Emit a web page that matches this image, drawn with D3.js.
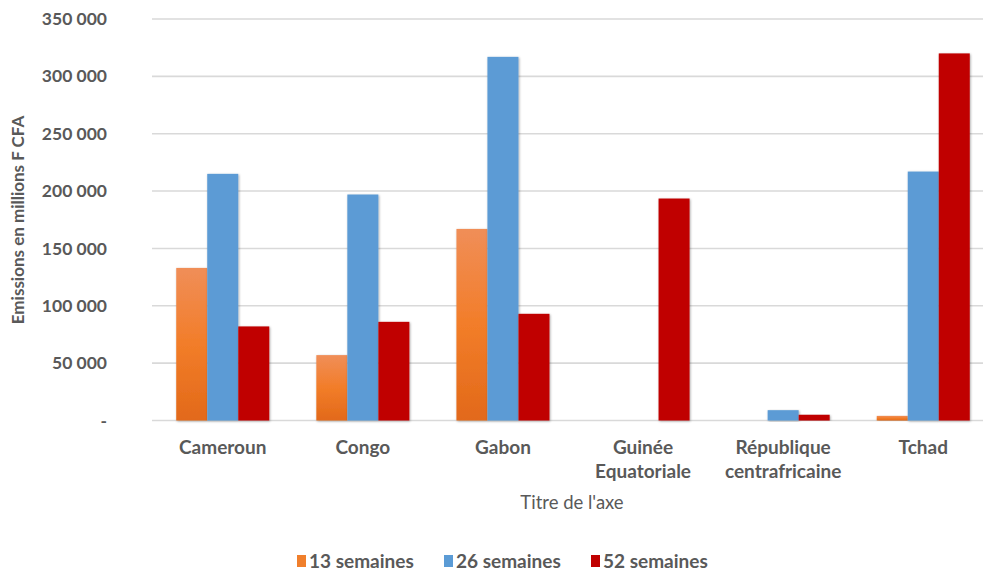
<!DOCTYPE html>
<html>
<head>
<meta charset="utf-8">
<script src="https://cdn.jsdelivr.net/npm/d3@7"></script>
<style>
  html, body { margin: 0; padding: 0; background: #fff; overflow: hidden; }
  svg { display: block; }
</style>
</head>
<body>
<div id="chart"></div>
<script>
// ---- data ----
const categories = ["Cameroun", "Congo", "Gabon", "Guinée Equatoriale", "République centrafricaine", "Tchad"];
const categoryLines = [["Cameroun"], ["Congo"], ["Gabon"], ["Guinée", "Equatoriale"], ["République", "centrafricaine"], ["Tchad"]];
const seriesNames = ["13 semaines", "26 semaines", "52 semaines"];
const s13 = [133000, 57000, 167000, 0, 0, 4000];
const s26 = [215000, 197000, 317000, 0, 9000, 217000];
const s52 = [82000, 86000, 93000, 193500, 5000, 320000];
const yTicks = [0, 50000, 100000, 150000, 200000, 250000, 300000, 350000];
const yTitle = "Emissions en millions F CFA";
const xTitle = "Titre de l'axe";

const W = 983, H = 571;
const svg = d3.select("#chart").append("svg").attr("width", W).attr("height", H);
const defs = svg.append("defs");

const og = defs.append("linearGradient").attr("id", "gOrange").attr("x1", 0).attr("y1", 0).attr("x2", 0).attr("y2", 1);
og.append("stop").attr("offset", "0%").attr("stop-color", "#F08E58");
og.append("stop").attr("offset", "50%").attr("stop-color", "#F27D29");
og.append("stop").attr("offset", "100%").attr("stop-color", "#E2691A");

const sh = defs.append("filter").attr("id", "shadow").attr("x", "-20%").attr("y", "-5%").attr("width", "140%").attr("height", "110%");
sh.append("feDropShadow").attr("dx", 0.8).attr("dy", 0.8).attr("stdDeviation", 1.3).attr("flood-color", "#000").attr("flood-opacity", 0.35);

const colors = ["url(#gOrange)", "#5B9BD5", "#C00000"];
const legendColors = ["#F07F2C", "#5B9BD5", "#C00000"];
const series = [s13, s26, s52];

const y = d3.scaleLinear().domain([0, 350000]).range([420.5, 19]);
const x = d3.scaleBand().domain(categories).range([152.7, 993.3]).paddingInner(0.336).paddingOuter(0.168);
const xs = d3.scaleBand().domain(seriesNames).range([0, x.bandwidth()]);

const fmt = v => v === 0 ? "-" : d3.format(",")(v).replace(/,/g, " ");

// gridlines
svg.append("g").selectAll("line").data(yTicks).join("line")
  .attr("x1", 152).attr("x2", W)
  .attr("y1", d => y(d)).attr("y2", d => y(d))
  .attr("stroke", "#D9D9D9").attr("stroke-width", 1.6);

// y axis labels
const yAxis = d3.axisLeft(y).tickValues(yTicks).tickFormat(fmt).tickSize(0).tickPadding(0);
const ya = svg.append("g").attr("transform", "translate(107,0)").call(yAxis);
ya.select(".domain").remove();
ya.selectAll("text").attr("font-family", "Lato, sans-serif").attr("font-weight", 700)
  .attr("font-size", 17.5).attr("fill", "#595959");

// bars
const groups = svg.append("g").selectAll("g").data(categories).join("g")
  .attr("transform", d => `translate(${x(d)},0)`);
seriesNames.forEach((name, si) => {
  groups.append("rect")
    .filter((d, i) => series[si][i] > 0)
    .attr("x", xs(name))
    .attr("width", xs.bandwidth())
    .attr("y", (d) => y(series[si][categories.indexOf(d)]))
    .attr("height", (d) => y(0) - y(series[si][categories.indexOf(d)]))
    .attr("fill", colors[si])
    .attr("filter", "url(#shadow)");
});

// category labels
const cl = svg.append("g").selectAll("text").data(categories).join("text")
  .attr("x", d => x(d) + x.bandwidth() / 2)
  .attr("y", 454)
  .attr("text-anchor", "middle")
  .attr("font-family", "Lato, sans-serif").attr("font-weight", 700)
  .attr("font-size", 19).attr("fill", "#595959");
cl.each(function(d, i) {
  const t = d3.select(this);
  categoryLines[i].forEach((ln, k) => {
    t.append("tspan").attr("x", x(d) + x.bandwidth() / 2).attr("dy", k === 0 ? 0 : 24).text(ln);
  });
});

// axis titles
svg.append("text").attr("x", 572).attr("y", 509).attr("text-anchor", "middle")
  .attr("font-family", "Lato, sans-serif").attr("font-size", 18.5).attr("fill", "#595959").text(xTitle);
svg.append("text").attr("transform", "translate(24,220) rotate(-90)").attr("text-anchor", "middle")
  .attr("font-family", "Lato, sans-serif").attr("font-weight", 700).attr("font-size", 17).attr("fill", "#595959").text(yTitle);

// legend
const legX = [297, 444, 591];
const lg = svg.append("g").selectAll("g").data(seriesNames).join("g")
  .attr("transform", (d, i) => `translate(${legX[i]},561)`);
lg.append("rect").attr("x", 0).attr("y", -6).attr("width", 9).attr("height", 12)
  .attr("fill", (d, i) => legendColors[i]);
lg.append("text").attr("x", 12).attr("y", 6.5)
  .attr("font-family", "Lato, sans-serif").attr("font-weight", 700)
  .attr("font-size", 19).attr("fill", "#595959").text(d => d);
</script>
</body>
</html>
